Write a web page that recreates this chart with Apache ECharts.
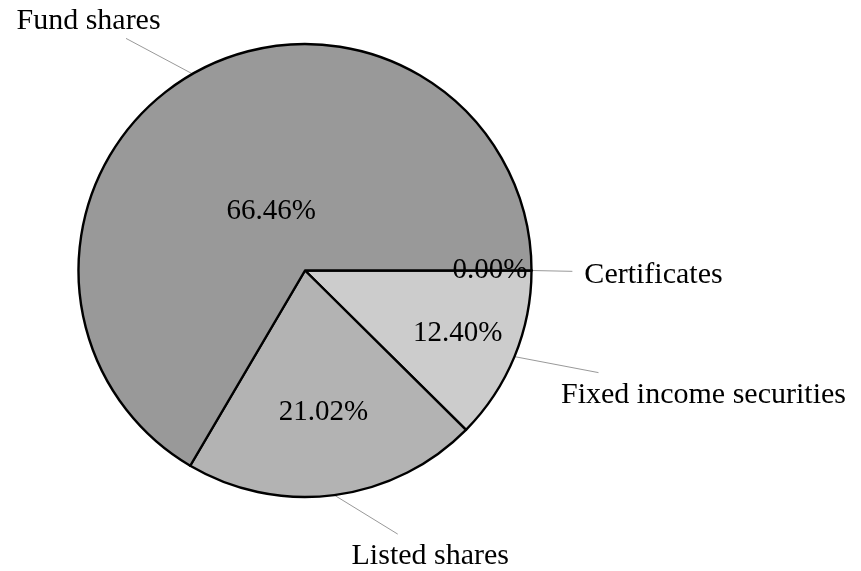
<!DOCTYPE html>
<html>
<head>
<meta charset="utf-8">
<title>Portfolio</title>
<script src="https://cdn.jsdelivr.net/npm/echarts@6/dist/echarts.min.js"></script>
<style>
  html, body { margin: 0; padding: 0; background: #fff; }
  #main { width: 861px; height: 571px; }
</style>
</head>
<body>
<div id="main"></div>
<script>
// slices, in drawing order (clockwise from 3 o'clock)
var names = ['Certificates', 'Fixed income securities', 'Listed shares', 'Fund shares'];
var shares = [0.00, 12.40, 21.02, 66.46];
var colors = ['#e6e6e6', '#cccccc', '#b3b3b3', '#999999'];

// label layout: distance of percentage from centre, name offset from slice edge
var innerDist = [182, 162, 140, 65];
var nameOffset = [[122, 2.5], [189, 36], [96, 59], [-104, -55.5]];

var CENTER = [305, 270.5];
var R = 226.5;
var FONT = 'Liberation Serif';
var TEXT_DROP = 2.5;   // glyphs sit a little above the box middle

var series = [];

// the pie itself
series.push({
    type: 'pie',
    silent: true,
    center: CENTER,
    radius: [0, R],
    startAngle: 0,
    clockwise: true,
    avoidLabelOverlap: false,
    label: { show: false },
    labelLine: { show: false },
    itemStyle: { borderColor: '#000', borderWidth: 2.4 },
    data: names.map(function (n, i) {
        return { name: n, value: shares[i], itemStyle: { color: colors[i] } };
    })
});

// percentage labels, one ring per slice so each sits at its own distance
innerDist.forEach(function (d, k) {
    series.push({
        type: 'pie',
        silent: true,
        center: CENTER,
        radius: [d - 1, d + 1],
        startAngle: 0,
        clockwise: true,
        avoidLabelOverlap: false,
        itemStyle: { color: 'rgba(0,0,0,0)', borderWidth: 0 },
        labelLine: { show: false },
        label: {
            position: 'inside',
            fontFamily: FONT,
            fontSize: 29,
            color: '#000',
            padding: [TEXT_DROP * 2, 0, 0, 0],
            formatter: function (p) { return p.value.toFixed(2) + '%'; }
        },
        data: names.map(function (n, i) {
            return { name: n, value: shares[i], label: { show: i === k } };
        })
    });
});

// names with leader lines
series.push({
    type: 'pie',
    silent: true,
    center: CENTER,
    radius: [0, R],
    startAngle: 0,
    clockwise: true,
    avoidLabelOverlap: false,
    itemStyle: { color: 'rgba(0,0,0,0)', borderWidth: 0 },
    label: {
        show: true,
        position: 'outside',
        alignTo: 'none',
        fontFamily: FONT,
        fontSize: 30,
        color: '#000',
        formatter: '{b}'
    },
    labelLine: {
        show: true,
        length: 10,
        length2: 0,
        minTurnAngle: 0,
        maxSurfaceAngle: 0,
        lineStyle: { color: '#999', width: 1 }
    },
    labelLayout: function (params) {
        var i = params.dataIndex;
        var p0 = params.labelLinePoints[0];
        var c = [p0[0] + nameOffset[i][0], p0[1] + nameOffset[i][1]];
        var hw = params.labelRect.width / 2 + 12;
        var hh = params.labelRect.height / 2 + 5;
        var vx = p0[0] - c[0], vy = p0[1] - c[1];
        var t = Math.min(hw / Math.max(Math.abs(vx), 1e-6), hh / Math.max(Math.abs(vy), 1e-6));
        var end = [c[0] + vx * t, c[1] + vy * t];
        return {
            x: c[0],
            y: c[1] + TEXT_DROP,
            align: 'center',
            verticalAlign: 'middle',
            labelLinePoints: [p0, end]
        };
    },
    data: names.map(function (n, i) {
        return { name: n, value: shares[i] };
    })
});

var option = {
    backgroundColor: '#fff',
    animation: false,
    series: series
};

var myChart = echarts.init(document.getElementById('main'));
myChart.setOption(option);
</script>
</body>
</html>
